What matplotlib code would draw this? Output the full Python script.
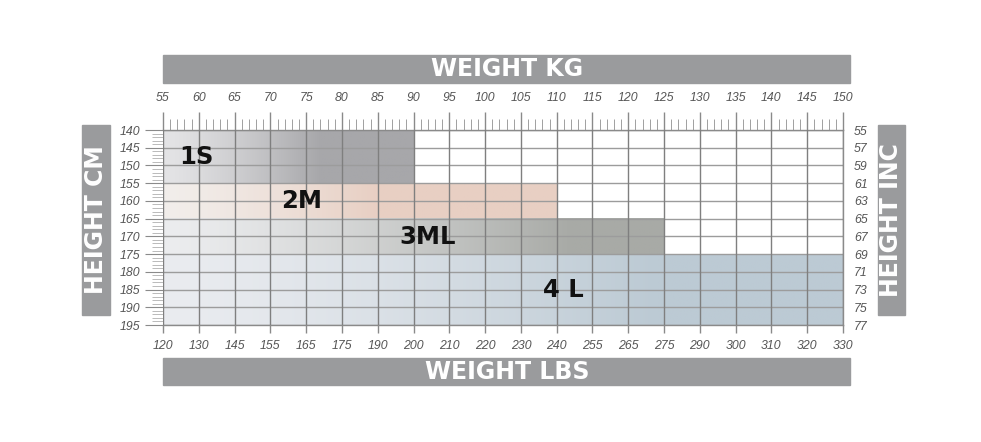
import numpy as np
import matplotlib
matplotlib.use("Agg")
import matplotlib.pyplot as plt
from matplotlib.patches import Rectangle
from matplotlib.colors import to_rgb

# ---- data ----
kg_ticks = [55, 60, 65, 70, 75, 80, 85, 90, 95, 100, 105, 110, 115, 120, 125, 130, 135, 140, 145, 150]
lbs_labels = [120, 130, 145, 155, 165, 175, 190, 200, 210, 220, 230, 240, 255, 265, 275, 290, 300, 310, 320, 330]
cm_ticks = [140, 145, 150, 155, 160, 165, 170, 175, 180, 185, 190, 195]
inch_labels = [55, 57, 59, 61, 63, 65, 67, 69, 71, 73, 75, 77]

sizes = ["1S", "2M", "3ML", "4 L"]
size_kg_max = [90, 110, 125, 150]
size_cm_min = [140, 155, 165, 175]
size_cm_max = [155, 165, 175, 195]
size_label_kg = [59.7, 74.3, 92.0, 111.0]
size_label_cm = [147.6, 160.0, 170.2, 185.0]

# style (not data)
size_colors = ["#a7a7aa", "#e8cfc3", "#a8aaa6", "#bccad4"]
size_left_colors = ["#e4e4e6", "#f2eeeb", "#ecedef", "#eaecf0"]
size_ramp_end = [77, 85, 112, 124]

W, H = 981, 442
fig = plt.figure(figsize=(W / 100, H / 100), dpi=100)
fig.patch.set_facecolor("white")

def fx(px):
    return px / W

def fy(py):
    return 1 - py / H

ax = fig.add_axes([fx(163), fy(325), fx(843) - fx(163), fy(130) - fy(325)])
axb = ax.twiny()
axr = ax.twinx()

# gradient fills
for i in range(len(sizes)):
    x0, x1 = 55, size_kg_max[i]
    xs = np.linspace(x0, x1, 300)
    t = np.clip((xs - x0) / (size_ramp_end[i] - x0), 0, 1)
    t = t ** 1.3
    c0 = np.array(to_rgb(size_left_colors[i]))
    c1 = np.array(to_rgb(size_colors[i]))
    img = c0[None, :] + (c1 - c0)[None, :] * t[:, None]
    img = img[None, :, :]
    ax.imshow(img, extent=[x0, x1, size_cm_max[i], size_cm_min[i]],
              aspect="auto", interpolation="bilinear", zorder=1)
ax.set_xlim(55, 150)
ax.set_ylim(195, 140)

# grid
for k in kg_ticks:
    ax.axvline(k, color="#7f7f7f", lw=1.0, zorder=3)
for c in cm_ticks:
    ax.axhline(c, color="#9c9c9c", lw=1.0, zorder=2)

ax.spines["left"].set_visible(False)
for s in ["top", "bottom", "right"]:
    ax.spines[s].set_color("#8a8a8a")
    ax.spines[s].set_linewidth(1.0)

# size labels
for i, s in enumerate(sizes):
    ax.text(size_label_kg[i], size_label_cm[i], s, fontsize=17.5, fontweight="bold",
            family="DejaVu Sans", color="#111111", ha="center", va="center", zorder=5)

tick_font = dict(fontsize=8.8, fontstyle="italic", family="Liberation Sans", color="#555555")

# top axis: kg
ax.xaxis.set_ticks_position("top")
ax.xaxis.set_label_position("top")
ax.set_xticks(kg_ticks)
ax.set_xticks(np.arange(55, 151, 1), minor=True)
ax.set_xticklabels([str(k) for k in kg_ticks], **tick_font)
ax.tick_params(axis="x", which="major", direction="out", length=13, width=1.0,
               color="#8a8a8a", pad=6, top=True, bottom=False,
               labeltop=True, labelbottom=False)
ax.tick_params(axis="x", which="minor", direction="out", length=8, width=0.7,
               color="#a0a0a0", top=True, bottom=False)

# left axis: cm
ax.yaxis.set_ticks_position("left")
ax.set_yticks(cm_ticks)
ax.set_yticks(np.arange(140, 196, 1), minor=True)
ax.set_yticklabels([str(c) for c in cm_ticks], **tick_font)
ax.tick_params(axis="y", which="major", direction="out", length=13, width=0.8,
               color="#8a8a8a", pad=3, left=True, right=False,
               labelleft=True, labelright=False)
ax.tick_params(axis="y", which="minor", direction="out", length=8, width=0.6,
               color="#b0b0b0", left=True, right=False)

# bottom axis: lbs
axb.set_xlim(55, 150)
axb.xaxis.set_ticks_position("bottom")
axb.set_xticks(kg_ticks)
axb.set_xticklabels([str(v) for v in lbs_labels], **tick_font)
axb.tick_params(axis="x", which="major", direction="out", length=6, width=1.0,
                color="#8a8a8a", pad=5, bottom=True, top=False,
                labelbottom=True, labeltop=False)
axb.tick_params(axis="x", which="minor", bottom=False, top=False)
for s in axb.spines.values():
    s.set_visible(False)

# right axis: inches
axr.set_ylim(195, 140)
axr.set_yticks(cm_ticks)
axr.set_yticklabels([str(v) for v in inch_labels], **tick_font)
axr.tick_params(axis="y", which="both", length=0, pad=8)
for s in axr.spines.values():
    s.set_visible(False)

# header bars
bar_color = "#9a9b9d"
title_font = dict(fontsize=17, fontweight="bold", family="DejaVu Sans", color="white")

fig.patches.append(Rectangle((fx(163), fy(83)), fx(850) - fx(163), fy(55) - fy(83),
                             transform=fig.transFigure, color=bar_color, zorder=0))
fig.text(fx(507), fy(69), "WEIGHT KG", ha="center", va="center", **title_font)

fig.patches.append(Rectangle((fx(163), fy(385)), fx(850) - fx(163), fy(358) - fy(385),
                             transform=fig.transFigure, color=bar_color, zorder=0))
fig.text(fx(507), fy(372), "WEIGHT LBS", ha="center", va="center", **title_font)

fig.patches.append(Rectangle((fx(82), fy(315)), fx(110) - fx(82), fy(125) - fy(315),
                             transform=fig.transFigure, color=bar_color, zorder=0))
fig.text(fx(96), fy(220), "HEIGHT CM", ha="center", va="center", rotation=90, **title_font)

fig.patches.append(Rectangle((fx(878), fy(315)), fx(905) - fx(878), fy(125) - fy(315),
                             transform=fig.transFigure, color=bar_color, zorder=0))
fig.text(fx(891.5), fy(220), "HEIGHT INC", ha="center", va="center", rotation=90, **title_font)

fig.savefig("out.png", dpi=100, facecolor="white")
